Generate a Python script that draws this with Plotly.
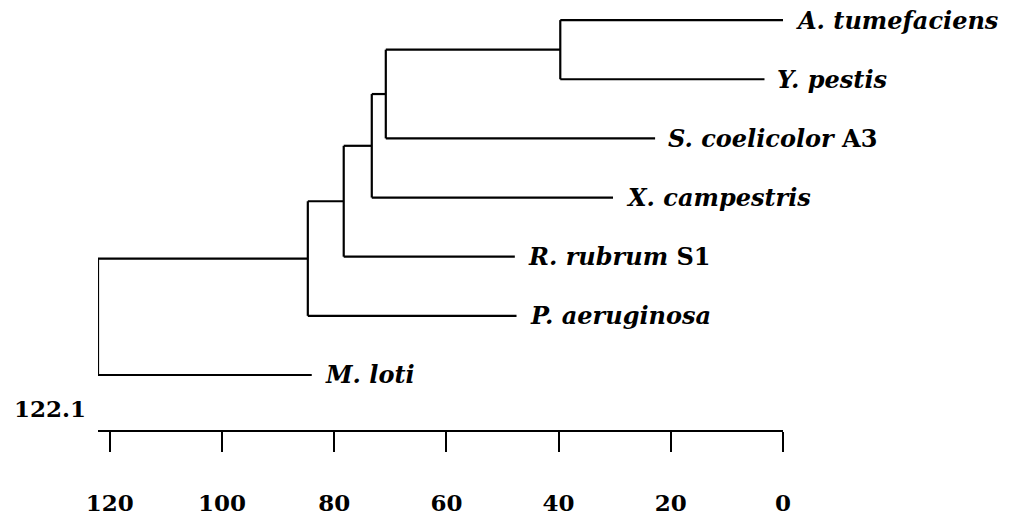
import plotly.graph_objects as go

# ---- data ----
leaf_names = ["M. loti", "P. aeruginosa", "R. rubrum S1", "X. campestris",
              "S. coelicolor A3", "Y. pestis", "A. tumefaciens"]
leaf_labels = ["<i>M. loti</i>", "<i>P. aeruginosa</i>", "<i>R. rubrum</i> S1",
               "<i>X. campestris</i>", "<i>S. coelicolor</i> A3", "<i>Y. pestis</i>",
               "<i>A. tumefaciens</i>"]
leaf_ends = [84.0, 47.5, 47.8, 30.3, 22.8, 3.3, 0.0]
# merges: (child_a, child_b, height); new nodes numbered after leaves
merges = [(5, 6, 39.7), (4, 7, 70.8), (3, 8, 73.3), (2, 9, 78.3), (1, 10, 84.7), (0, 11, 122.1)]
root_stub = 2.7
tick_vals = [120, 100, 80, 60, 40, 20, 0]
max_height = 122.1

# ---- build dendrogram segments ----
n = len(leaf_names)
node_y = {i: float(i) for i in range(n)}
node_h = {i: None for i in range(n)}
xs, ys = [], []
for k, (a, b, h) in enumerate(merges):
    nid = n + k
    for c in (a, b):
        cx_end = leaf_ends[c] if c < n else node_h[c]
        xs += [h, cx_end, None]
        ys += [node_y[c], node_y[c], None]
    xs += [h, h, None]
    ys += [node_y[a], node_y[b], None]
    node_y[nid] = (node_y[a] + node_y[b]) / 2
    node_h[nid] = h
root = n + len(merges) - 1
xs += [node_h[root], node_h[root] + root_stub, None]
ys += [node_y[root], node_y[root], None]

FONT = "DejaVu Serif"

fig = go.Figure()
fig.add_trace(go.Scatter(x=xs, y=ys, mode="lines",
                         line=dict(color="black", width=2.2),
                         cliponaxis=False, hoverinfo="skip", showlegend=False))

for i in range(n):
    fig.add_annotation(x=leaf_ends[i], y=i, xref="x", yref="y",
                       text="<b>" + leaf_labels[i] + "</b>",
                       showarrow=False, xanchor="left", yanchor="middle",
                       xshift=11, font=dict(family=FONT, size=24, color="black"))

fig.add_annotation(x=max_height, y=-0.56, xref="x", yref="y",
                   text="<b>%.1f</b>" % max_height, showarrow=False,
                   xanchor="right", yanchor="middle", xshift=-10,
                   font=dict(family=FONT, size=23, color="black"))

fig.update_layout(
    width=1019, height=520,
    margin=dict(l=98, r=236, t=0, b=90),
    paper_bgcolor="white", plot_bgcolor="white",
    xaxis=dict(range=[max_height, 0], showgrid=False, zeroline=False,
               showline=True, linecolor="black", linewidth=2,
               ticks="outside", ticklen=20, tickwidth=2, tickcolor="black",
               tickvals=tick_vals, ticktext=[str(v) for v in tick_vals],
               ticklabelstandoff=31,
               tickfont=dict(family=FONT, size=23, color="black", weight="bold")),
    yaxis=dict(range=[-0.93, 6.34], visible=False),
)

fig.write_html("out.html", config={"displayModeBar": False},
               post_script="document.body.style.margin='0px';")
